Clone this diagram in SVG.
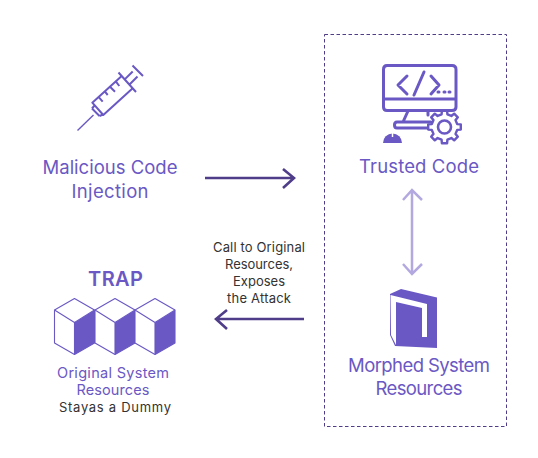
<svg xmlns="http://www.w3.org/2000/svg" width="538" height="458" viewBox="0 0 538 458">
<style>
text{font-family:"Inter","Noto Sans","Liberation Sans",sans-serif;text-anchor:middle}
.t{font-size:18.500px;fill:#6a58c4}
.s{font-size:14.500px;fill:#6a58c4}
.k{font-size:13px;fill:#333}
.i{fill:none;stroke:#6a58c4;stroke-width:3;stroke-linecap:round;stroke-linejoin:round}
.y{fill:none;stroke:#6a58c4;stroke-width:2;stroke-linejoin:round}
.c{fill:#fff;stroke:#6a58c4;stroke-width:1.1;stroke-linejoin:round}
.a{fill:none;stroke:#4f3d8a;stroke-width:2.600}
</style>
<defs>
<g id="cube">
<path class="c" d="M0 -23.500L20 -12V21L0 32.500L-20 21V-12Z"/>
<path d="M0 0.500L20 -12V21L0 32.500Z" fill="#6a58c4"/>
<path class="c" fill="none" d="M-20 -12L0 0.500L20 -12M0 0.500V32.500"/>
</g>
</defs>
<rect id="boundary" x="324.500" y="34.500" width="182" height="392" fill="none" stroke="#4f3d8a" stroke-width="1" stroke-dasharray="3.500 2.500"/>
<g id="injection">
<path class="y" d="M92.300 102.700L121.700 76L132.700 88.300L103.300 115ZM118.500 72.500L136 92M132.500 65.500L143 76M124.700 79.400L132.700 71.500M129.500 84.500L137.500 76.500M92 108.500L99.500 116M94.500 105.500L92 108.500M99.500 116L103 114.500M98.300 96.700L102.700 101.700M105 91.700L107.700 95M110 86.700L115 91.700M116 81.700L119.300 86"/>
<path d="M93.500 115L77.500 130.500" stroke="#6a58c4" stroke-width="1.400" fill="none"/>
<text class="t" x="110" y="174" textLength="135">Malicious Code</text>
<text class="t" x="110" y="198" textLength="77">Injection</text>
</g>
<g id="trusted">
<path class="i" d="M387 65.500H452Q456 65.500 456 69.500V107Q456 110.500 452 110.500H387Q383.500 110.500 383.500 107V69.500Q383.500 65.500 387 65.500ZM383.500 99H456M408 111L403 122M428 111V115M397 122H431M397 122Q394.500 122 394.500 125Q394.500 128 397 128H431M407 76L398 85L407 94M431 76L439 85L431 94M424 72L414 95M438 92H439M444 92H445M449 92H450"/>
<path transform="translate(444.500 127)" d="M12.670 -2.920L16.300 -2.580V2.580L12.670 2.920L11.020 6.890L13.350 9.700L9.700 13.350L6.890 11.020L2.920 12.670L2.580 16.300H-2.580L-2.920 12.670L-6.890 11.020L-9.700 13.350L-13.350 9.700L-11.020 6.890L-12.670 2.920L-16.300 2.580V-2.580L-12.670 -2.920L-11.020 -6.890L-13.350 -9.700L-9.700 -13.350L-6.890 -11.020L-2.920 -12.670L-2.580 -16.300H2.580L2.920 -12.670L6.890 -11.020L9.700 -13.350L13.350 -9.700L11.020 -6.890Z" fill="#fff" stroke="#6a58c4" stroke-width="2.400" stroke-linejoin="round"/>
<circle cx="444.500" cy="127" r="6.500" fill="#fff" stroke="#6a58c4" stroke-width="2.600"/>
<path d="M383 143A9.500 9.500 0 0 1 402 143Z" fill="#6a58c4"/>
<path d="M392.500 133V137" stroke="#fff" stroke-width="1.500"/>
<text class="t" x="419" y="173" textLength="120">Trusted Code</text>
</g>
<g id="morphed">
<path d="M390 294L401 289L437 297.500V348L395 346L390 335Z" fill="#6a58c4"/>
<path d="M390.500 295L427 304V337H422V308L396 302V345L391 335Z" fill="#fff"/>
<text class="t" x="419" y="372" textLength="142">Morphed System</text>
<text class="t" x="419" y="395" textLength="87">Resources</text>
</g>
<g id="trap">
<text x="115.500" y="286" textLength="55" style="font-size:20px;font-weight:600;fill:#6a58c4">TRAP</text>
<use href="#cube" x="74.500" y="322"/>
<use href="#cube" x="115" y="322"/>
<use href="#cube" x="155" y="322"/>
<text class="s" x="113" y="378" textLength="112">Original System</text>
<text class="s" x="113" y="395" textLength="73">Resources</text>
<text class="k" x="115" y="412" textLength="112">Stayas a Dummy</text>
</g>
<g id="connectors">
<path class="a" d="M205 178H293M283 169L294 178L283 188"/>
<path class="a" d="M304 319H217M227 310L216 319L227 329"/>
<path d="M412 191V273M403 200L412 190L422 200M403 264L412 274L422 264" fill="none" stroke="#b3a8e0" stroke-width="2.500"/>
</g>
<g id="label">
<text class="k" x="259" y="252" textLength="92">Call to Original</text>
<text class="k" x="259" y="269" textLength="68">Resources,</text>
<text class="k" x="259" y="286" textLength="52">Exposes</text>
<text class="k" x="259" y="303" textLength="64">the Attack</text>
</g>
</svg>
